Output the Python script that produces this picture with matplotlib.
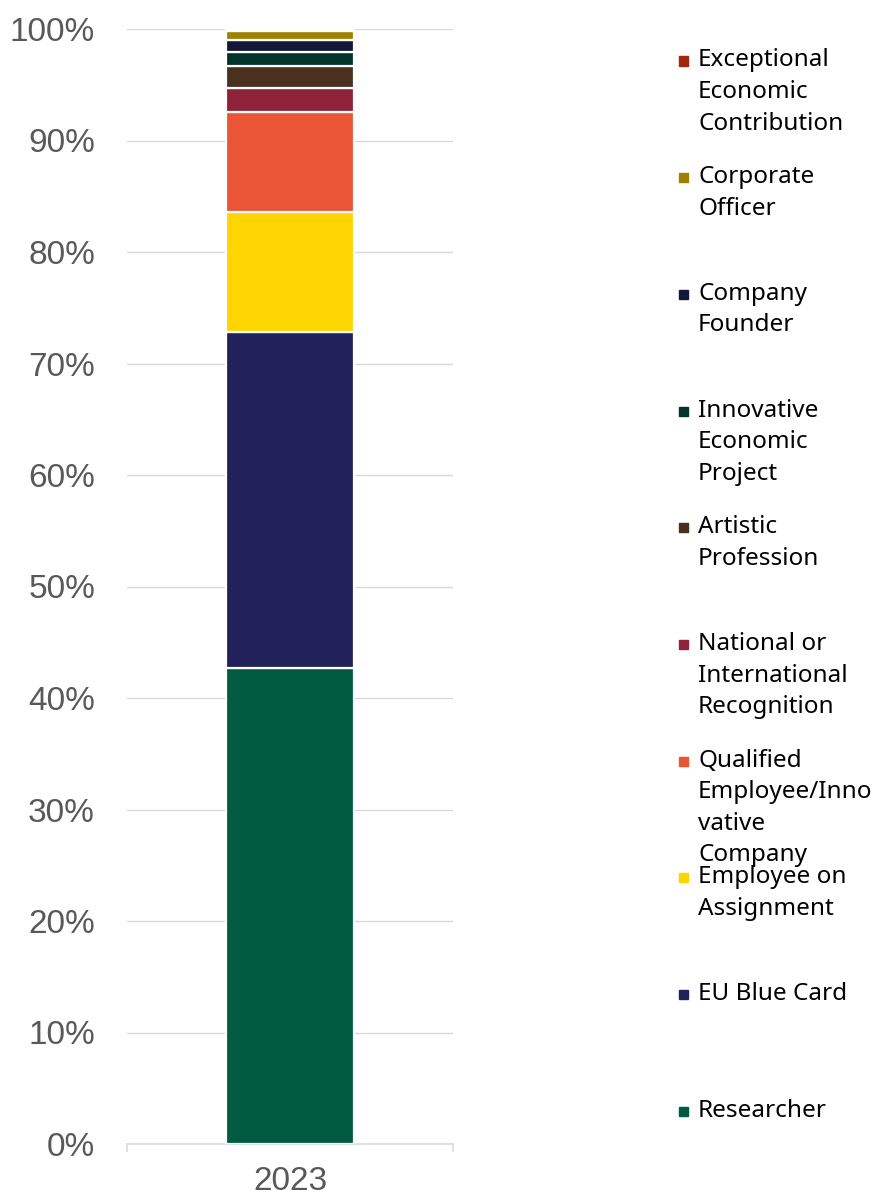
import matplotlib
matplotlib.use("Agg")
import matplotlib.pyplot as plt
from matplotlib.patches import Rectangle
from matplotlib.ticker import PercentFormatter

# stacked shares for 2023, bottom to top (percent)
categories = [
    "Researcher",
    "EU Blue Card",
    "Employee on\nAssignment",
    "Qualified\nEmployee/Inno\nvative\nCompany",
    "National or\nInternational\nRecognition",
    "Artistic\nProfession",
    "Innovative\nEconomic\nProject",
    "Company\nFounder",
    "Corporate\nOfficer",
    "Exceptional\nEconomic\nContribution",
]
shares = [42.7, 30.1, 10.8, 9.0, 2.1, 2.0, 1.2, 1.1, 0.8, 0.2]
colors = ["#005B41", "#22215A", "#FFD500", "#E95535", "#8E2238",
          "#4A301E", "#00352A", "#141838", "#9E8100", "#A0280F"]
year = "2023"

W, H = 890, 1197
fig = plt.figure(figsize=(W / 100, H / 100), dpi=100)
ax = fig.add_axes([127 / W, (H - 1144) / H, 326 / W, 1115 / H])

bottom = 0.0
for val, col in zip(shares, colors):
    ax.bar(0, val, width=0.39, bottom=bottom, color=col,
           edgecolor="white", linewidth=1.6, zorder=3)
    bottom += val

ax.set_xlim(-0.5, 0.5)
ax.set_ylim(0, 100)
ax.set_yticks(range(0, 101, 10))
ax.yaxis.set_major_formatter(PercentFormatter(decimals=0))
ax.grid(axis="y", color="#D9D9D9", lw=1.0, zorder=0)
for s in ("left", "right", "top"):
    ax.spines[s].set_visible(False)
ax.spines["bottom"].set_color("#D9D9D9")
ax.spines["bottom"].set_linewidth(1.2)

ax.tick_params(axis="y", length=0, pad=23, labelsize=24,
               labelcolor="#595959", labelfontfamily="Liberation Sans")
ax.set_xticks([0], [year])
ax.set_xticks([-0.5, 0.5], minor=True)
ax.tick_params(axis="x", which="major", length=0, pad=16, labelsize=24,
               labelcolor="#595959", labelfontfamily="Liberation Sans")
ax.tick_params(axis="x", which="minor", length=6, width=1.2,
               color="#D9D9D9")

# legend, top entry first, drawn by hand line by line
top_first = list(zip(categories, colors))[::-1]
y0, step, line_h = 66.5, 116.7, 31.5
for i, (lab, col) in enumerate(top_first):
    yb = y0 + i * step
    fig.patches.append(Rectangle((679 / W, (H - yb + 1) / H),
                                 9 / W, 9 / H, transform=fig.transFigure,
                                 color=col, figure=fig))
    for k, line in enumerate(lab.split("\n")):
        fig.text(698 / W, (H - yb - k * line_h) / H, line, fontsize=17.5,
                 family="Noto Sans", va="baseline", ha="left",
                 color="black")

fig.savefig("out.png", dpi=100)
